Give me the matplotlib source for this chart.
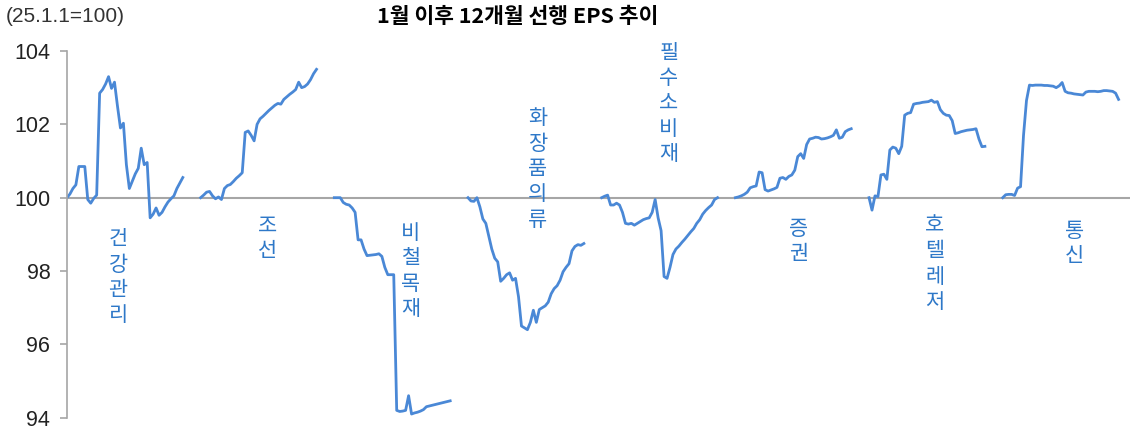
import numpy as np
import matplotlib

matplotlib.use('Agg')  # no display
import matplotlib.pyplot as plt

plt.rcParams['font.family'] = ['Noto Sans CJK KR', 'DejaVu Sans']

# sectors in chart order
sectors = ['건강관리', '조선', '비철목재', '화장품의류', '필수소비재', '증권', '호텔레저', '통신']

# 12M forward EPS index (25.1.1=100), one list per sector
eps_health = [100.0, 100.1, 100.25, 100.35, 100.85, 100.85, 100.85, 99.95, 99.85, 99.98,
              100.07, 102.85, 102.95, 103.1, 103.3, 102.98, 103.15, 102.5, 101.9, 102.03,
              100.9, 100.25, 100.45, 100.65, 100.8, 101.35, 100.9, 100.96, 99.45, 99.55,
              99.72, 99.52, 99.6, 99.75, 99.88, 99.97, 100.05, 100.25, 100.4, 100.55]
eps_ship = [100.0, 100.07, 100.15, 100.17, 100.05, 99.97, 100.02, 99.95, 100.25, 100.33,
            100.36, 100.44, 100.53, 100.6, 100.68, 101.78, 101.82, 101.7, 101.55, 102.0,
            102.15, 102.22, 102.3, 102.38, 102.45, 102.52, 102.57, 102.55, 102.68, 102.75,
            102.82, 102.88, 102.95, 103.15, 103.0, 103.03, 103.1, 103.22, 103.38, 103.5]
eps_metal = [100.0, 100.0, 100.0, 99.87, 99.82, 99.8, 99.72, 99.6, 98.85, 98.85,
             98.6, 98.42, 98.43, 98.44, 98.45, 98.47, 98.4, 98.1, 97.9, 97.9,
             97.9, 94.2, 94.17, 94.18, 94.2, 94.6, 94.1, 94.13, 94.15, 94.18,
             94.22, 94.3, 94.32, 94.34, 94.36, 94.38, 94.4, 94.42, 94.44, 94.46]
eps_cosmetic = [100.0, 99.91, 99.9, 100.0, 99.75, 99.42, 99.3, 98.95, 98.6, 98.35,
                98.25, 97.72, 97.8, 97.9, 97.95, 97.75, 97.8, 97.3, 96.5, 96.45,
                96.4, 96.6, 96.93, 96.6, 96.95, 97.0, 97.05, 97.15, 97.38, 97.52,
                97.6, 97.75, 97.98, 98.1, 98.2, 98.55, 98.67, 98.72, 98.7, 98.75]
eps_staples = [100.0, 100.04, 100.07, 99.8, 99.8, 99.85, 99.8, 99.6, 99.3, 99.28,
               99.3, 99.25, 99.3, 99.35, 99.4, 99.43, 99.45, 99.6, 99.95, 99.45,
               99.1, 97.85, 97.8, 98.1, 98.45, 98.6, 98.68, 98.78, 98.87, 98.97,
               99.07, 99.16, 99.3, 99.4, 99.55, 99.65, 99.73, 99.8, 99.95, 100.0]
eps_broker = [100.0, 100.02, 100.05, 100.09, 100.15, 100.27, 100.3, 100.32, 100.7, 100.68,
              100.22, 100.18, 100.21, 100.24, 100.28, 100.53, 100.55, 100.5, 100.58, 100.62,
              100.75, 101.12, 101.2, 101.07, 101.45, 101.6, 101.62, 101.65, 101.64, 101.6,
              101.61, 101.63, 101.66, 101.7, 101.85, 101.62, 101.65, 101.8, 101.85, 101.88]
eps_leisure = [100.0, 99.66, 100.05, 100.03, 100.62, 100.64, 100.5, 101.3, 101.38, 101.35,
               101.2, 101.4, 102.25, 102.3, 102.32, 102.55, 102.57, 102.58, 102.6, 102.61,
               102.62, 102.66, 102.6, 102.62, 102.4, 102.3, 102.25, 102.24, 102.1, 101.75,
               101.77, 101.8, 101.82, 101.84, 101.85, 101.86, 101.88, 101.6, 101.39, 101.4]
eps_telecom = [100.0, 100.08, 100.09, 100.09, 100.06, 100.26, 100.3, 101.7, 102.65, 103.07,
               103.06, 103.07, 103.07, 103.07, 103.06, 103.06, 103.05, 103.04, 103.0, 103.05,
               103.14, 102.9, 102.86, 102.85, 102.83, 102.82, 102.81, 102.8, 102.88, 102.9,
               102.9, 102.9, 102.89, 102.9, 102.92, 102.92, 102.91, 102.9, 102.85, 102.68]

series = [eps_health, eps_ship, eps_metal, eps_cosmetic,
          eps_staples, eps_broker, eps_leisure, eps_telecom]

# label anchor (x, top y)
label_pos = [(17.2, 99.17), (67.4, 99.53), (115.6, 99.34), (158.4, 102.47),
             (202.6, 104.25), (246.4, 99.45), (292.2, 99.53), (339.1, 99.39)]

yticks = [94, 96, 98, 100, 102, 104]

block = 45  # slots per sector incl. gap
line_color = '#4A88D6'
text_color = '#2E78C8'
grey = '#A6A6A6'

fig = plt.figure(figsize=(11.35, 4.3), dpi=100)
ax = fig.add_axes([0.059, 0.0286, 0.937, 0.8528])

for i, vals in enumerate(series):
    x = i * block + np.arange(len(vals))
    ax.plot(x, vals, color=line_color, linewidth=2.0, solid_joinstyle='round')

for name, (lx, ly) in zip(sectors, label_pos):
    ax.text(lx, ly, '\n'.join(name), color=text_color, fontsize=15,
            ha='center', va='top', linespacing=1.2, fontweight='light')

ax.axhline(100, color=grey, linewidth=1.5, zorder=0)

ax.set_xlim(0, 358)
ax.set_ylim(94, 104)
ax.set_yticks(yticks)
ax.set_yticklabels([str(t) for t in yticks], fontsize=15.5, color='#222222',
                   family=['Liberation Sans', 'DejaVu Sans'])
ax.set_xticks([])
ax.tick_params(axis='y', direction='out', length=5, color=grey, width=1.2, pad=7)

for side in ['top', 'right', 'bottom']:
    ax.spines[side].set_visible(False)
ax.spines['left'].set_color(grey)
ax.spines['left'].set_linewidth(1.2)

fig.text(0.005, 0.962, '(25.1.1=100)', fontsize=15, color='#333333', va='center',
         family=['Liberation Sans', 'DejaVu Sans'])
fig.text(0.456, 0.962, '1월 이후 12개월 선행 EPS 추이', fontsize=15.5, fontweight='bold',
         ha='center', va='center')

fig.savefig('out.png', dpi=100)
plt.close(fig)
